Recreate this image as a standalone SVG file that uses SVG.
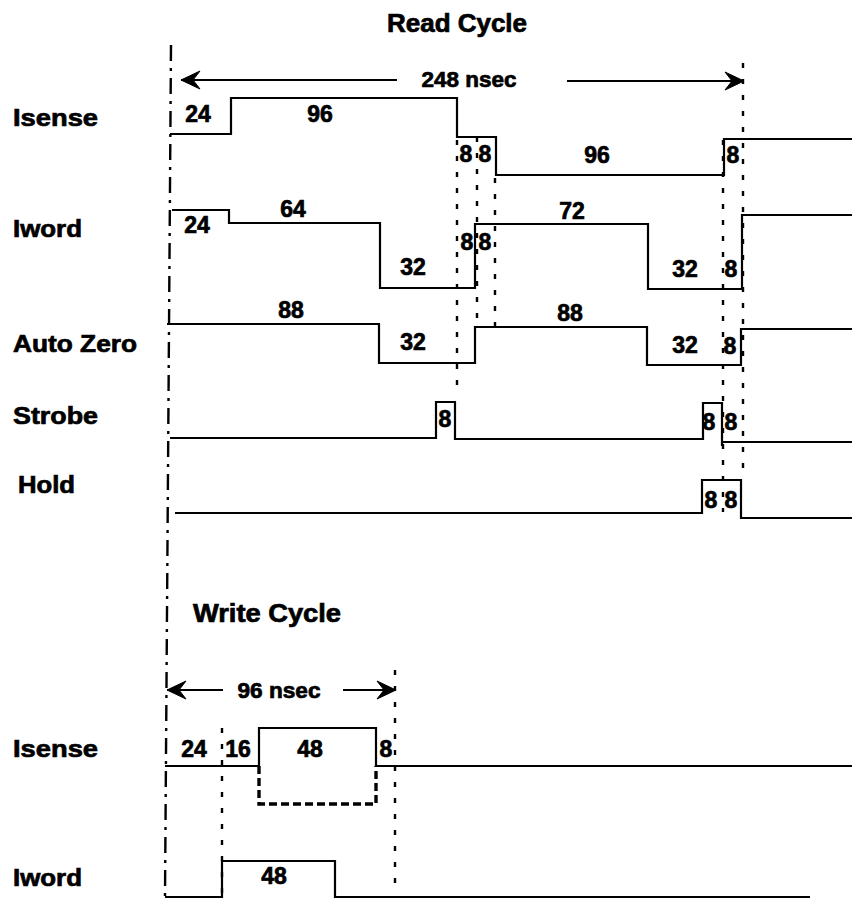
<svg xmlns="http://www.w3.org/2000/svg" width="852" height="901" viewBox="0 0 852 901">
<style>
text{font-family:"Liberation Sans",Arial,sans-serif;font-weight:bold;fill:#000;stroke:#000;stroke-width:0.7}
.lbl{font-size:24px}
.num{font-size:23px;text-anchor:middle}
.title{font-size:25px;text-anchor:middle}
.dim{font-size:22px;text-anchor:middle}
.w{fill:none;stroke:#000;stroke-width:2.2;stroke-linejoin:miter}
.dot{fill:none;stroke:#000;stroke-width:2.4;stroke-dasharray:5 11}
.main{fill:none;stroke:#000;stroke-width:2.4;stroke-dasharray:16 7 3 7}
.arr{fill:none;stroke:#000;stroke-width:2.2}
.box{fill:none;stroke:#000;stroke-width:3.4;stroke-dasharray:8 4}
</style>
<defs>
<marker id="ah" markerUnits="userSpaceOnUse" markerWidth="24" markerHeight="24" viewBox="-21 -12 24 24" refX="0" refY="0" orient="auto-start-reverse">
<path d="M0,0 L-19,-9 L-12,0 L-19,9 Z" fill="#000" stroke="#000" stroke-width="1" stroke-linejoin="round"/>
</marker>
</defs>
<rect width="852" height="901" fill="#fff"/>

<g id="titles">
<text class="title" x="457" y="32" textLength="140" lengthAdjust="spacingAndGlyphs">Read Cycle</text>
<text class="title" x="267" y="622" textLength="148" lengthAdjust="spacingAndGlyphs">Write Cycle</text>
</g>

<g id="connectors">
<path class="main" d="M171,45 L165,897"/>
<path class="dot" d="M457,140 V396"/>
<path class="dot" d="M477,137 V328"/>
<path class="dot" d="M495,178 V326"/>
<path class="dot" d="M723,140 V512"/>
<path class="dot" d="M743,63 V472"/>
<path class="dot" d="M222,728 V896"/>
<path class="dot" d="M395,670 V888"/>
<path class="arr" d="M397,80 H181" marker-end="url(#ah)"/>
<path class="arr" d="M567,81 H744" marker-end="url(#ah)"/>
<text class="dim" x="469" y="87" textLength="95" lengthAdjust="spacingAndGlyphs">248 nsec</text>
<path class="arr" d="M223,690 H167" marker-end="url(#ah)"/>
<path class="arr" d="M343,690 H396" marker-end="url(#ah)"/>
<text class="dim" x="279" y="698" textLength="83" lengthAdjust="spacingAndGlyphs">96 nsec</text>
</g>

<g id="read-isense">
<text class="lbl" x="13" y="126" textLength="85" lengthAdjust="spacingAndGlyphs">Isense</text>
<path class="w" d="M170,134 H231 V98 H457 V137 H496 V175 H724 V139 H852"/>
<text class="num" x="198" y="122">24</text>
<text class="num" x="320" y="122">96</text>
<text class="num" x="466" y="162">8</text>
<text class="num" x="485" y="162">8</text>
<text class="num" x="597" y="163">96</text>
<text class="num" x="733" y="163">8</text>
</g>

<g id="read-iword">
<text class="lbl" x="13" y="237" textLength="69" lengthAdjust="spacingAndGlyphs">Iword</text>
<path class="w" d="M172,210 H229 V223 H380 V288 H475 V224 H648 V289 H742 V215 H852"/>
<text class="num" x="197" y="233">24</text>
<text class="num" x="293" y="217">64</text>
<text class="num" x="413" y="275">32</text>
<text class="num" x="467" y="250">8</text>
<text class="num" x="485" y="250">8</text>
<text class="num" x="572" y="219">72</text>
<text class="num" x="685" y="277">32</text>
<text class="num" x="731" y="277">8</text>
</g>

<g id="read-autozero">
<text class="lbl" x="13" y="352" textLength="124" lengthAdjust="spacingAndGlyphs">Auto Zero</text>
<path class="w" d="M167,324 H379 V363 H475 V327 H647 V365 H741 V329 H852"/>
<text class="num" x="291" y="318">88</text>
<text class="num" x="413" y="350">32</text>
<text class="num" x="570" y="321">88</text>
<text class="num" x="685" y="353">32</text>
<text class="num" x="730" y="354">8</text>
</g>

<g id="read-strobe">
<text class="lbl" x="13" y="424" textLength="85" lengthAdjust="spacingAndGlyphs">Strobe</text>
<path class="w" d="M170,438 H436 V402 H455 V439 H703 V403 H722 V446 M722,442 H852"/>
<text class="num" x="445" y="427">8</text>
<text class="num" x="709" y="430">8</text>
<text class="num" x="731" y="430">8</text>
</g>

<g id="read-hold">
<text class="lbl" x="18" y="493" textLength="57" lengthAdjust="spacingAndGlyphs">Hold</text>
<path class="w" d="M175,513 H702 V480 H741 V518 H852"/>
<text class="num" x="711" y="508">8</text>
<text class="num" x="731" y="508">8</text>
</g>

<g id="write-isense">
<text class="lbl" x="13" y="757" textLength="85" lengthAdjust="spacingAndGlyphs">Isense</text>
<path class="w" d="M165,766 H259 V728 H376 V766 H852"/>
<path class="box" d="M259,766 V804 H376 V766"/>
<text class="num" x="194" y="757">24</text>
<text class="num" x="238" y="757">16</text>
<text class="num" x="310" y="757">48</text>
<text class="num" x="386" y="757">8</text>
</g>

<g id="write-iword">
<text class="lbl" x="13" y="886" textLength="69" lengthAdjust="spacingAndGlyphs">Iword</text>
<path class="w" d="M165,897 H222 V861 H335 V897 H810"/>
<text class="num" x="274" y="884">48</text>
</g>
</svg>
